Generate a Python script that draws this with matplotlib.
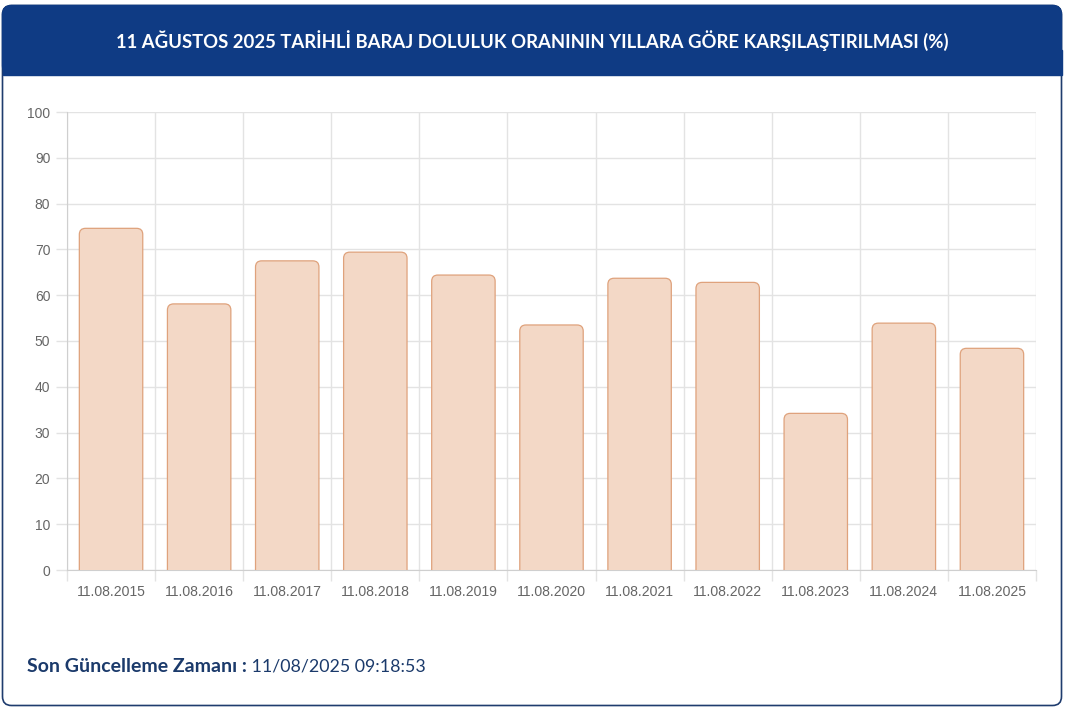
import matplotlib
matplotlib.use('Agg')
import matplotlib.pyplot as plt  # noqa E402
from matplotlib.patches import FancyBboxPatch, Rectangle  # noqa E402

# data
dates = ["11.08.2015", "11.08.2016", "11.08.2017", "11.08.2018",
         "11.08.2019", "11.08.2020", "11.08.2021", "11.08.2022",
         "11.08.2023", "11.08.2024", "11.08.2025"]
fill_rate = [74.6, 58.1, 67.5, 69.4, 64.4, 53.5, 63.7, 62.8, 34.2, 53.9, 48.4]
y_ticks = [0, 10, 20, 30, 40, 50, 60, 70, 80, 90, 100]

title = "11 AĞUSTOS 2025 TARİHLİ BARAJ DOLULUK ORANININ YILLARA GÖRE KARŞILAŞTIRILMASI (%)"
footer_label = "Son Güncelleme Zamanı :"
footer_value = " 11/08/2025 09:18:53"

W, H = 1069, 712
navy = "#0f3b84"
text_navy = "#1b3a6b"
grid_col = "#e3e3e3"
bar_fill = "#f3d8c6"
bar_edge = "#dfa27c"

fig = plt.figure(figsize=(W / 100, H / 100), dpi=100)

# background layer in pixel coordinates
bg = fig.add_axes([0, 0, 1, 1], zorder=0)
bg.set_xlim(0, W)
bg.set_ylim(H, 0)
bg.axis('off')

card = FancyBboxPatch((2.5, 5.5), 1059, 700, boxstyle="round,pad=0,rounding_size=9",
                      facecolor="white", edgecolor="#1f3c6e", lw=1.2)
bg.add_patch(card)
head = FancyBboxPatch((2.5, 5.5), 1059, 69, boxstyle="round,pad=0,rounding_size=9",
                      facecolor=navy, edgecolor=navy, lw=1)
bg.add_patch(head)
bg.add_patch(Rectangle((2.5, 50), 1059, 25, facecolor=navy, edgecolor=navy, lw=1))

bg.text(532, 41, title, color="white", fontsize=13.3, fontweight='bold',
        family=['Lato', 'DejaVu Sans'], ha='center', va='center')

t1 = bg.text(27, 666, footer_label, color=text_navy, fontsize=14,
             fontweight='bold', family=['Lato', 'DejaVu Sans'],
             ha='left', va='center')
bg.annotate(footer_value, xy=(1, 0.5), xycoords=t1, color=text_navy,
            fontsize=12.8, family=['Lato', 'DejaVu Sans'],
            ha='left', va='center')

# chart
ax = fig.add_axes([67 / W, (H - 570) / H, (1036 - 67) / W, (570 - 112) / H],
                  zorder=1)
ax.patch.set_alpha(0)
n = len(dates)
x = list(range(n))
bars = ax.bar(x, fill_rate, width=0.72, color="none", edgecolor="none")

px_x = (1036 - 67) / n
px_y = (570 - 112) / 100.0
aspect = px_x / px_y
for b in bars:
    bx, bw, bh = b.get_x(), b.get_width(), b.get_height()
    rp = FancyBboxPatch((bx, -3), bw, bh + 3,
                        boxstyle="round,pad=0,rounding_size=0.07",
                        mutation_aspect=aspect,
                        facecolor=bar_fill, edgecolor=bar_edge, lw=0.9,
                        zorder=3)
    ax.add_patch(rp)
    b.remove()

ax.set_xlim(-0.5, n - 0.5)
ax.set_ylim(0, 100)
ax.set_yticks(y_ticks)
ax.set_xticks(x)
ax.set_xticklabels(dates)
ax.set_xticks([i - 0.5 for i in range(n + 1)], minor=True)

ax.grid(axis='y', color=grid_col, lw=1, zorder=0)
ax.grid(axis='x', which='minor', color=grid_col, lw=1, zorder=0)
ax.tick_params(axis='x', which='major', length=0, pad=11,
               labelsize=10.1, labelcolor="#666666")
ax.tick_params(axis='x', which='minor', length=8, color=grid_col, width=1)
ax.tick_params(axis='y', length=8, color=grid_col, width=1, pad=4,
               labelsize=10, labelcolor="#666666")
for lab in ax.get_xticklabels() + ax.get_yticklabels():
    lab.set_family(['Liberation Sans', 'DejaVu Sans'])

for s in ['top', 'right']:
    ax.spines[s].set_visible(False)
ax.spines['left'].set_color("#cfcfcf")
ax.spines['bottom'].set_color("#cfcfcf")

fig.savefig("out.png", dpi=100)
